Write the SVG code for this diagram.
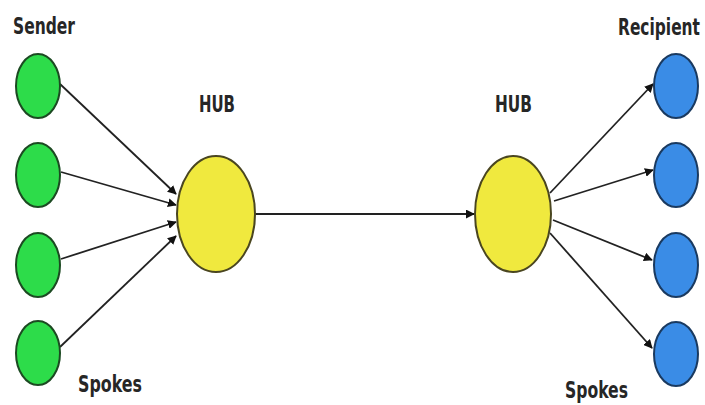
<svg xmlns="http://www.w3.org/2000/svg" width="705" height="405" viewBox="0 0 705 405">
<style>
.lbl{font-family:"DejaVu Sans Condensed","Liberation Sans Narrow","Liberation Sans",sans-serif;font-weight:bold;font-size:23px;fill:#262626}
.g{fill:#2ddc4a;stroke:#1c4a22;stroke-width:2}
.y{fill:#f0e93e;stroke:#4a4620;stroke-width:2}
.b{fill:#3a8ce6;stroke:#1a3a60;stroke-width:2}
.c{stroke:#222;stroke-width:1.8;fill:none;marker-end:url(#ah)}
</style>
<defs>
<marker id="ah" viewBox="0 0 10 10" refX="9" refY="5" markerWidth="5" markerHeight="5" orient="auto" markerUnits="strokeWidth">
<path d="M0,0 L10,5 L0,10 z" fill="#111"/>
</marker>
</defs>
<rect width="705" height="405" fill="#fff"/>
<g id="connectors">
<line class="c" x1="60" y1="84" x2="176" y2="194"/>
<line class="c" x1="61" y1="172" x2="176" y2="205"/>
<line class="c" x1="61" y1="259" x2="176" y2="222"/>
<line class="c" x1="60" y1="347" x2="176" y2="236"/>
<line class="c" x1="255" y1="214" x2="474" y2="214"/>
<line class="c" x1="550" y1="193" x2="653" y2="84"/>
<line class="c" x1="554" y1="201" x2="653" y2="170"/>
<line class="c" x1="553" y1="220" x2="652" y2="260"/>
<line class="c" x1="550" y1="233" x2="652" y2="348"/>
</g>
<g id="sender-label"><text class="lbl" x="13" y="34" textLength="62" lengthAdjust="spacingAndGlyphs">Sender</text></g>
<g id="recipient-label"><text class="lbl" x="618" y="35" textLength="82" lengthAdjust="spacingAndGlyphs">Recipient</text></g>
<g id="spokes-left"><text class="lbl" x="78" y="392" textLength="64" lengthAdjust="spacingAndGlyphs">Spokes</text></g>
<g id="spokes-right"><text class="lbl" x="565" y="398" textLength="63" lengthAdjust="spacingAndGlyphs">Spokes</text></g>
<g id="hub-left-label"><text class="lbl" x="199" y="112" textLength="36" lengthAdjust="spacingAndGlyphs">HUB</text></g>
<g id="hub-right-label"><text class="lbl" x="495" y="112" textLength="37" lengthAdjust="spacingAndGlyphs">HUB</text></g>
<g id="s1"><ellipse class="g" cx="38" cy="86" rx="22" ry="32"/></g>
<g id="s2"><ellipse class="g" cx="38" cy="175" rx="22" ry="32"/></g>
<g id="s3"><ellipse class="g" cx="38" cy="265" rx="22" ry="32"/></g>
<g id="s4"><ellipse class="g" cx="38" cy="353" rx="22" ry="32"/></g>
<g id="hub1"><ellipse class="y" cx="216" cy="214" rx="39" ry="58"/></g>
<g id="hub2"><ellipse class="y" cx="513" cy="214" rx="38" ry="58"/></g>
<g id="r1"><ellipse class="b" cx="676" cy="86" rx="22" ry="32"/></g>
<g id="r2"><ellipse class="b" cx="676" cy="175" rx="22" ry="32"/></g>
<g id="r3"><ellipse class="b" cx="676" cy="265" rx="22" ry="32"/></g>
<g id="r4"><ellipse class="b" cx="676" cy="354" rx="22" ry="32"/></g>
</svg>
